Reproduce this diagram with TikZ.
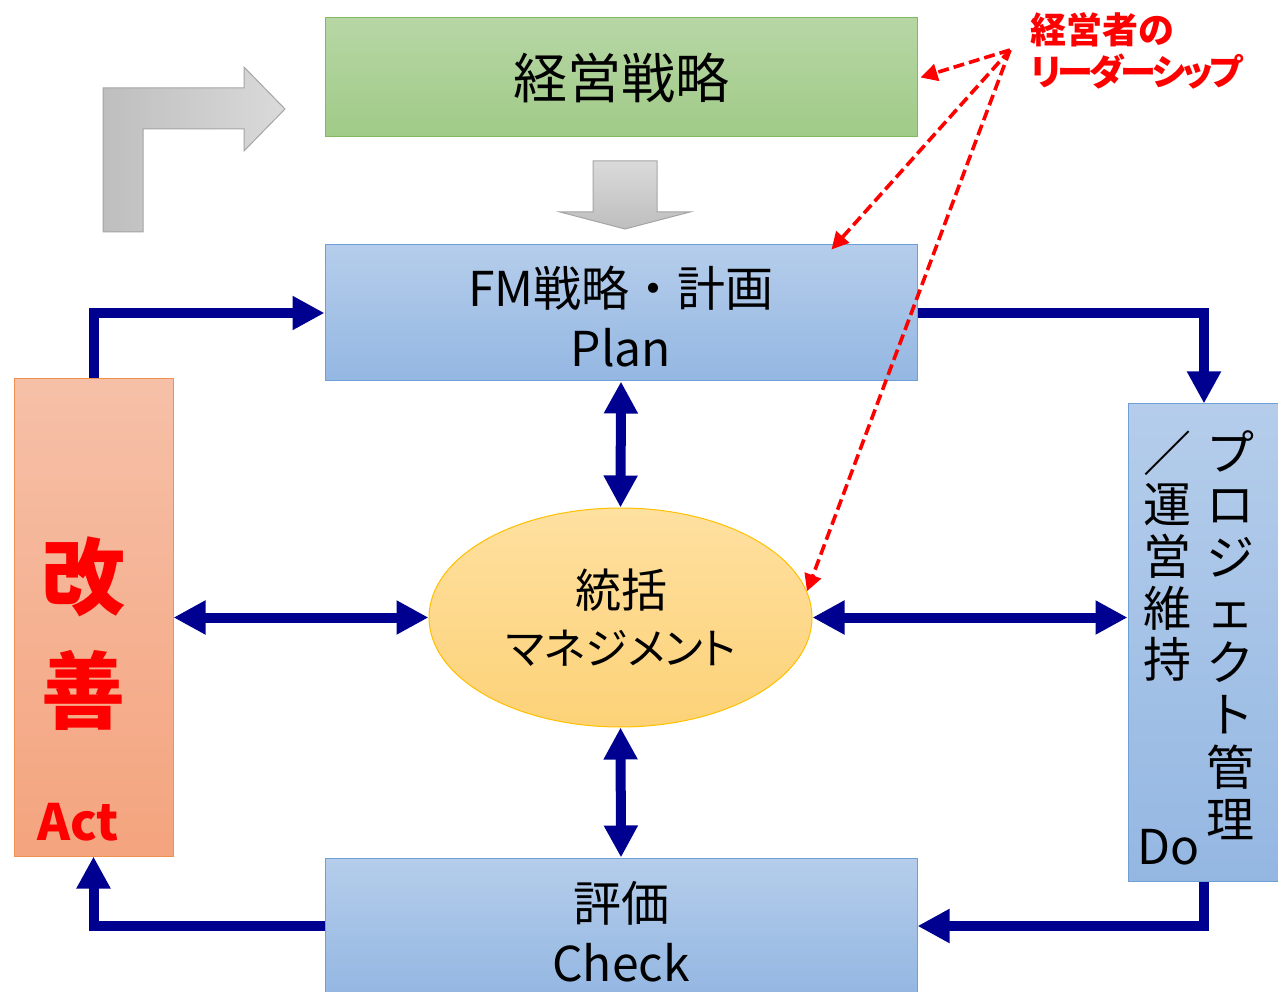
\documentclass[tikz,border=0pt]{standalone}
\usepackage{fontspec}
\setmainfont{Noto Sans CJK JP}
\newfontfamily\jpp[RawFeature=+palt]{Noto Sans CJK JP}
\usetikzlibrary{arrows.meta,shapes.geometric,calc}
\definecolor{navy}{RGB}{0,0,144}
\definecolor{greentop}{RGB}{183,214,165}
\definecolor{greenbot}{RGB}{160,203,135}
\definecolor{greenedge}{RGB}{130,185,95}
\definecolor{bluetop}{RGB}{181,205,235}
\definecolor{bluebot}{RGB}{148,183,226}
\definecolor{blueedge}{RGB}{110,160,215}
\definecolor{orangetop}{RGB}{246,192,168}
\definecolor{orangebot}{RGB}{244,164,126}
\definecolor{orangeedge}{RGB}{240,145,80}
\definecolor{elltop}{RGB}{254,224,160}
\definecolor{ellbot}{RGB}{253,210,120}
\definecolor{elledge}{RGB}{255,192,0}
\definecolor{graylight}{RGB}{218,218,218}
\definecolor{graydark}{RGB}{190,190,190}
\definecolor{grayedge}{RGB}{165,165,165}
\begin{document}
\begin{tikzpicture}[x=1pt,y=-1pt,
  box/.style={draw, line width=1pt, inner sep=0pt, align=center},
  greenbox/.style={box, draw=greenedge, top color=greentop, bottom color=greenbot},
  bluebox/.style={box, draw=blueedge, top color=bluetop, bottom color=bluebot},
  orangebox/.style={box, draw=orangeedge, top color=orangetop, bottom color=orangebot},
  flow/.style={draw=navy, line width=10pt, line join=miter, -{Triangle[length=32pt,width=32pt]}},
  flowtwo/.style={draw=navy, line width=10pt, {Triangle[length=32pt,width=32pt]}-{Triangle[length=32pt,width=32pt]}},
  lead/.style={draw=red, line width=3.6pt, dash pattern=on 11pt off 5pt, -{Triangle[length=17pt,width=17pt]}},
  big/.style={font=\fontsize{48}{60}\selectfont},
  redbig/.style={text=red, inner sep=0pt, font=\bfseries\fontsize{84}{84}\selectfont},
  bigarrow/.style={draw=grayedge, line width=1pt}
]
\useasboundingbox (0,0) rectangle (1278,992);
\clip (0,0) rectangle (1278,992);

% gray arrows
\path[bigarrow, left color=graydark, right color=graylight]
  (103,232) -- (103,88) -- (244,88) -- (244,67) -- (285,109) -- (244,151) -- (244,129) -- (143,129) -- (143,232) -- cycle;
\path[bigarrow, top color=graylight, bottom color=graydark]
  (593,161) -- (657,161) -- (657,212) -- (690,212) -- (625,229) -- (560,212) -- (593,212) -- cycle;

% boxes
\node[greenbox, minimum width=592pt, minimum height=119pt, font=\fontsize{54}{60}\selectfont] (strat) at (621,77.5) {経営戦略};
\node[bluebox, minimum width=592pt, minimum height=136pt] (fm) at (621,313) {};
\node[bluebox, minimum width=592pt, minimum height=136pt] (check) at (621,926) {};
\node[orangebox, minimum width=159pt, minimum height=477pt] (act) at (93.5,617.5) {};
\node[bluebox, minimum width=152pt, minimum height=477pt] (do) at (1204,642.5) {};
\node[draw=elledge, line width=1pt, ellipse, top color=elltop, bottom color=ellbot, minimum width=383pt, minimum height=219pt, inner sep=0pt] (ell) at (620.5,617.5) {};

% box texts
\node[big, inner sep=0pt] (fmtxt) at (621,288) {FM戦略・計画};
\node[big, inner sep=0pt] (plantxt) at (621,348) {Plan};
\node[big, inner sep=0pt] (evaltxt) at (621,903) {評価};
\node[big, inner sep=0pt] (checktxt) at (621,963) {Check};
\node[inner sep=0pt, font=\fontsize{46}{46}\selectfont] (tokatsu) at (621,590) {統括};
\node[inner sep=0pt, font=\jpp\fontsize{43}{43}\selectfont] (mgmt) at (621,648) {マネジメント};

% act texts
\node[redbig] (kai) at (83,577) {改};
\node[redbig] (zen) at (83,690) {善};
\node[text=red, inner sep=0pt, font=\bfseries\fontsize{50}{50}\selectfont] (actlbl) at (78,822) {Act};

% do texts
\node[inner sep=0pt, align=center, font=\fontsize{48}{52.5}\selectfont] (pm) at (1230,635) {プ\\ロ\\ジ\\ェ\\ク\\ト\\管\\理};
\node[inner sep=0pt, align=center, font=\fontsize{48}{51.6}\selectfont] (um) at (1167,556) {／\\運\\営\\維\\持};
\node[inner sep=0pt, font=\fontsize{48}{48}\selectfont] (dolbl) at (1169,847) {Do};

% leadership text
\node[text=red, inner sep=0pt, anchor=west, font=\bfseries\jpp\fontsize{36}{42}\selectfont] (leader1) at (1030,30) {経営者の};
\node[text=red, inner sep=0pt, anchor=west, font=\bfseries\jpp\fontsize{36}{42}\selectfont\addfontfeature{LetterSpace=-9}] (leader2) at (1030,72) {リーダーシップ};

% cycle connectors
\draw[flow] (act.north) |- (fm.west);
\draw[flow] (fm.east) -| (do.north);
\draw[flow] (do.south) |- (check.east);
\draw[flow] (check.west) -| (act.south);

% double arrows
\draw[flowtwo] (fm.south) -- (ell.north);
\draw[flowtwo] (ell.south) -- (check.north);
\draw[flowtwo] (act.east |- ell.west) -- (ell.west);
\draw[flowtwo] (ell.east) -- (ell.east -| do.west);

% leadership arrows
\coordinate (src) at (1010,50);
\coordinate (strathit) at ($(strat.east)+(3,0)$);
\coordinate (fmhit) at ($(fm.north west)+(507,5)$);
\draw[lead] (src) -- (strathit);
\draw[lead] (src) -- (fmhit);
\draw[lead] (src) -- (ell.8);
\end{tikzpicture}
\end{document}
